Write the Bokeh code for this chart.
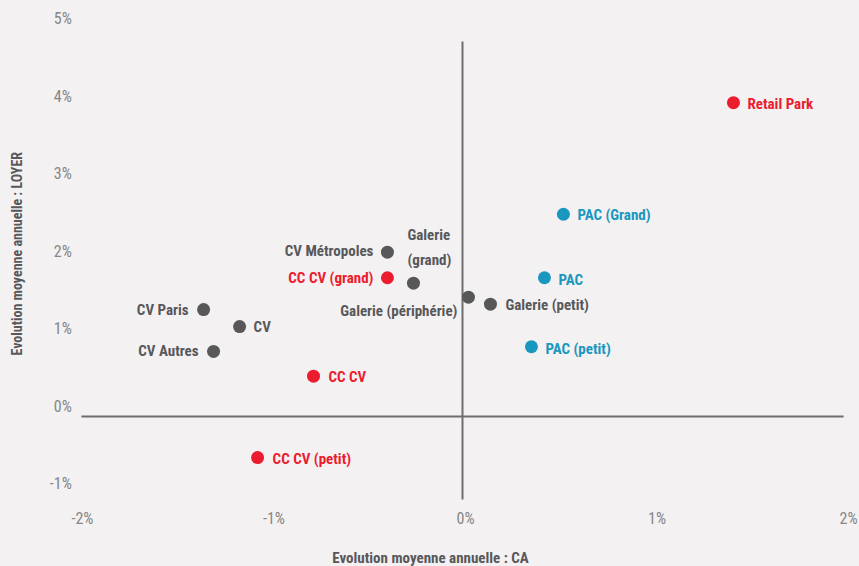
from bokeh.plotting import figure
from bokeh.models import ColumnDataSource, Range1d
from bokeh.core.properties import value
from bokeh.embed import file_html
from bokeh.resources import INLINE
import math

# ---- data ----
names = ["Retail Park", "PAC (Grand)", "PAC", "PAC (petit)", "Galerie (petit)",
         "Galerie (périphérie)", "Galerie\n(grand)", "CV Métropoles", "CC CV (grand)",
         "CV Paris", "CV", "CV Autres", "CC CV", "CC CV (petit)"]
ca = [1.415, 0.527, 0.428, 0.360, 0.146, 0.031, -0.256, -0.392, -0.392,
      -1.352, -1.164, -1.300, -0.778, -1.070]
loyer = [4.05, 2.61, 1.79, 0.90, 1.45, 1.54, 1.72, 2.12, 1.79,
         1.38, 1.16, 0.84, 0.52, -0.53]
groups = ["cc", "pac", "pac", "pac", "galerie", "galerie", "galerie", "cv", "cc",
          "cv", "cv", "cv", "cc", "cc"]

x_ticks = [-2, -1, 0, 1, 2]
x_tick_labels = ["-2%", "-1%", "0%", "1%", "2%"]
y_ticks = [-1, 0, 1, 2, 3, 4, 5]
y_tick_labels = ["-1%", "0%", "1%", "2%", "3%", "4%", "5%"]

x_title = "Evolution moyenne annuelle : CA"
y_title = "Evolution moyenne annuelle : LOYER"

# ---- styles ----
BG = "#f3f1f2"
COLORS = {"cc": "#ec1c2f", "pac": "#1a97bf", "galerie": "#58585a", "cv": "#58585a"}
LABEL_FONT = "'Roboto Condensed', 'DejaVu Sans Condensed', Lato, sans-serif"
TICK_FONT = "'Roboto Condensed', Lato, sans-serif"
TICK_COLOR = "#868686"
AXIS_LINE = "#6e6e6e"

# label placement (align, x_offset px, y_offset px, baseline)
LABEL_POS = {
    "Retail Park": ("left", 14, 1, "middle"),
    "PAC (Grand)": ("left", 14, 1, "middle"),
    "PAC": ("left", 14, 2, "middle"),
    "PAC (petit)": ("left", 14, 2, "middle"),
    "Galerie (petit)": ("left", 15, 1, "middle"),
    "Galerie (périphérie)": ("right", -11, 14, "middle"),
    "Galerie\n(grand)": ("left", -6, -14, "bottom"),
    "CV Métropoles": ("right", -14, -1, "middle"),
    "CC CV (grand)": ("right", -14, 0, "middle"),
    "CV Paris": ("right", -15, 0, "middle"),
    "CV": ("left", 14, 0, "middle"),
    "CV Autres": ("right", -15, 0, "middle"),
    "CC CV": ("left", 15, 1, "middle"),
    "CC CV (petit)": ("left", 15, 1, "middle"),
}

W, H = 859, 566
X0_PX, SX = 462, 191.5   # px of x=0, px per 1%
Y0_PX, SY = 416, 77.5    # px of y=0, px per 1%

p = figure(width=W, height=H, output_backend="svg", toolbar_location=None,
           x_range=Range1d(-X0_PX / SX, (W - X0_PX) / SX),
           y_range=Range1d(-(H - Y0_PX) / SY, Y0_PX / SY),
           min_border=0, background_fill_color=BG, border_fill_color=BG)
p.axis.visible = False
p.grid.visible = False
p.outline_line_color = None

# axis cross lines
p.segment(x0=[0], y0=[-1.07], x1=[0], y1=[4.84], line_color=AXIS_LINE, line_width=2)
p.segment(x0=[-1.99], y0=[0], x1=[1.99], y1=[0], line_color=AXIS_LINE, line_width=2)

# tick labels
p.text(x=x_ticks, y=[-1.315] * len(x_ticks), text=x_tick_labels, text_align="center",
       text_baseline="middle", x_offset=3, text_font=value(TICK_FONT),
       text_font_size="16px", text_color=TICK_COLOR)
p.text(x=[-2.04] * len(y_ticks), y=y_ticks, text=y_tick_labels, text_align="right",
       text_baseline="bottom", y_offset=-1, text_font=value(TICK_FONT),
       text_font_size="16px", text_color=TICK_COLOR)

# axis titles
p.text(x=[-2.324], y=[2.1], text=[y_title], angle=math.pi / 2, text_align="center",
       text_baseline="middle", text_font=value(LABEL_FONT), text_font_style="bold",
       text_font_size="14px", text_color="#58585a")
p.text(x=[-0.167], y=[-1.82], text=[x_title], text_align="center",
       text_baseline="middle", text_font=value(LABEL_FONT), text_font_style="bold",
       text_font_size="15px", text_color="#58585a")

# points
src = ColumnDataSource(dict(x=ca, y=loyer, name=names,
                            color=[COLORS[g] for g in groups]))
p.scatter("x", "y", source=src, size=13, fill_color="color", line_color=None)

# labels
for i, n in enumerate(names):
    align, xo, yo, base = LABEL_POS[n]
    p.text(x=[ca[i]], y=[loyer[i]], text=[n], text_align=align, text_baseline=base,
           x_offset=xo, y_offset=yo, text_font=value(LABEL_FONT),
           text_font_style="bold", text_font_size="15px",
           text_color=COLORS[groups[i]], text_line_height=1.4)

html = file_html(p, INLINE)
html = html.replace("<head>", "<head><style>body{background:%s;margin:0;}</style>" % BG, 1)
open("out.html", "w").write(html)
